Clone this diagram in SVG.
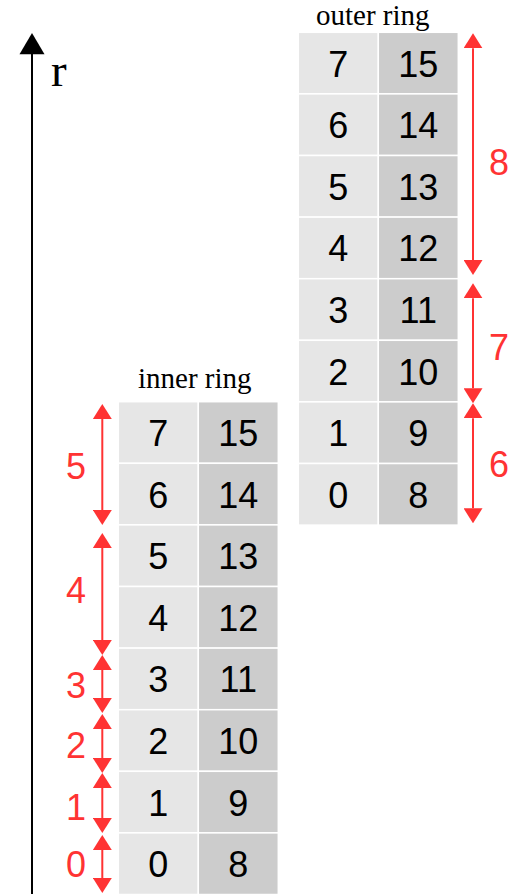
<svg xmlns="http://www.w3.org/2000/svg" width="510" height="894" viewBox="0 0 510 894">
<defs>
<marker id="rh" viewBox="0 0 15 19" refX="0" refY="9.5" markerWidth="15" markerHeight="19" markerUnits="userSpaceOnUse" orient="auto-start-reverse">
<path d="M0,0 L15,9.5 L0,19 Z" fill="#ff3333"/>
</marker>
</defs>
<style>
.l{fill:#e6e6e6;stroke:#ffffff;stroke-width:1.5}
.d{fill:#cccccc;stroke:#ffffff;stroke-width:1.5}
.n{font-family:"Liberation Sans",Arial,sans-serif;font-size:36px;fill:#000;text-anchor:middle}
.rl{font-family:"Liberation Sans",Arial,sans-serif;font-size:36px;fill:#ff3333;text-anchor:middle}
.s{font-family:"Liberation Serif","Times New Roman",serif;fill:#000}
.ra{stroke:#ff3333;stroke-width:2;fill:none;marker-start:url(#rh);marker-end:url(#rh)}
</style>
<rect width="510" height="894" fill="#ffffff"/>
<g id="axis">
<line x1="32" y1="53" x2="32" y2="894" stroke="#000" stroke-width="2"/>
<polygon points="32,33 19.5,54.3 44.5,54.3" fill="#000"/>
<text class="s" x="51" y="86" font-size="47">r</text>
</g>
<g id="outer-ring">
<text class="s" x="316" y="25" font-size="29">outer ring</text>
<rect class="l" x="298.3" y="32.3" width="80" height="61.6"/><rect class="d" x="378.3" y="32.3" width="80" height="61.6"/>
<text class="n" x="338.3" y="76.5">7</text><text class="n" x="418.3" y="76.5">15</text>
<rect class="l" x="298.3" y="93.9" width="80" height="61.6"/><rect class="d" x="378.3" y="93.9" width="80" height="61.6"/>
<text class="n" x="338.3" y="138.1">6</text><text class="n" x="418.3" y="138.1">14</text>
<rect class="l" x="298.3" y="155.5" width="80" height="61.6"/><rect class="d" x="378.3" y="155.5" width="80" height="61.6"/>
<text class="n" x="338.3" y="199.7">5</text><text class="n" x="418.3" y="199.7">13</text>
<rect class="l" x="298.3" y="217.1" width="80" height="61.6"/><rect class="d" x="378.3" y="217.1" width="80" height="61.6"/>
<text class="n" x="338.3" y="261.3">4</text><text class="n" x="418.3" y="261.3">12</text>
<rect class="l" x="298.3" y="278.7" width="80" height="61.6"/><rect class="d" x="378.3" y="278.7" width="80" height="61.6"/>
<text class="n" x="338.3" y="322.9">3</text><text class="n" x="418.3" y="322.9">11</text>
<rect class="l" x="298.3" y="340.3" width="80" height="61.6"/><rect class="d" x="378.3" y="340.3" width="80" height="61.6"/>
<text class="n" x="338.3" y="384.5">2</text><text class="n" x="418.3" y="384.5">10</text>
<rect class="l" x="298.3" y="401.9" width="80" height="61.6"/><rect class="d" x="378.3" y="401.9" width="80" height="61.6"/>
<text class="n" x="338.3" y="446.1">1</text><text class="n" x="418.3" y="446.1">9</text>
<rect class="l" x="298.3" y="463.5" width="80" height="61.6"/><rect class="d" x="378.3" y="463.5" width="80" height="61.6"/>
<text class="n" x="338.3" y="507.7">0</text><text class="n" x="418.3" y="507.7">8</text>
</g>
<g id="inner-ring">
<text class="s" x="138" y="388" font-size="29">inner ring</text>
<rect class="l" x="118.3" y="401.7" width="80" height="61.6"/><rect class="d" x="198.3" y="401.7" width="80" height="61.6"/>
<text class="n" x="158.3" y="446">7</text><text class="n" x="238.3" y="446">15</text>
<rect class="l" x="118.3" y="463.3" width="80" height="61.6"/><rect class="d" x="198.3" y="463.3" width="80" height="61.6"/>
<text class="n" x="158.3" y="507.6">6</text><text class="n" x="238.3" y="507.6">14</text>
<rect class="l" x="118.3" y="524.9" width="80" height="61.6"/><rect class="d" x="198.3" y="524.9" width="80" height="61.6"/>
<text class="n" x="158.3" y="569.2">5</text><text class="n" x="238.3" y="569.2">13</text>
<rect class="l" x="118.3" y="586.5" width="80" height="61.6"/><rect class="d" x="198.3" y="586.5" width="80" height="61.6"/>
<text class="n" x="158.3" y="630.8">4</text><text class="n" x="238.3" y="630.8">12</text>
<rect class="l" x="118.3" y="648.1" width="80" height="61.6"/><rect class="d" x="198.3" y="648.1" width="80" height="61.6"/>
<text class="n" x="158.3" y="692.4">3</text><text class="n" x="238.3" y="692.4">11</text>
<rect class="l" x="118.3" y="709.7" width="80" height="61.6"/><rect class="d" x="198.3" y="709.7" width="80" height="61.6"/>
<text class="n" x="158.3" y="754">2</text><text class="n" x="238.3" y="754">10</text>
<rect class="l" x="118.3" y="771.3" width="80" height="61.6"/><rect class="d" x="198.3" y="771.3" width="80" height="61.6"/>
<text class="n" x="158.3" y="815.6">1</text><text class="n" x="238.3" y="815.6">9</text>
<rect class="l" x="118.3" y="832.9" width="80" height="61.6"/><rect class="d" x="198.3" y="832.9" width="80" height="61.6"/>
<text class="n" x="158.3" y="877.2">0</text><text class="n" x="238.3" y="877.2">8</text>
</g>
<g id="connectors">
<line class="ra" x1="473" y1="48.3" x2="473" y2="260"/>
<line class="ra" x1="473" y1="298.3" x2="473" y2="388.3"/>
<line class="ra" x1="473" y1="418.3" x2="473" y2="508.3"/>
<line class="ra" x1="102.3" y1="419" x2="102.3" y2="510"/>
<line class="ra" x1="102.3" y1="548" x2="102.3" y2="640"/>
<line class="ra" x1="102.3" y1="670" x2="102.3" y2="698"/>
<line class="ra" x1="102.3" y1="729" x2="102.3" y2="758"/>
<line class="ra" x1="102.3" y1="788" x2="102.3" y2="818"/>
<line class="ra" x1="102.3" y1="850" x2="102.3" y2="878"/>
</g>
<g id="labels">
<text class="rl" x="499" y="175">8</text>
<text class="rl" x="499" y="360">7</text>
<text class="rl" x="499" y="477">6</text>
<text class="rl" x="76" y="479">5</text>
<text class="rl" x="76" y="603">4</text>
<text class="rl" x="76" y="698">3</text>
<text class="rl" x="76" y="758">2</text>
<text class="rl" x="76" y="820">1</text>
<text class="rl" x="76" y="877">0</text>
</g>
</svg>
